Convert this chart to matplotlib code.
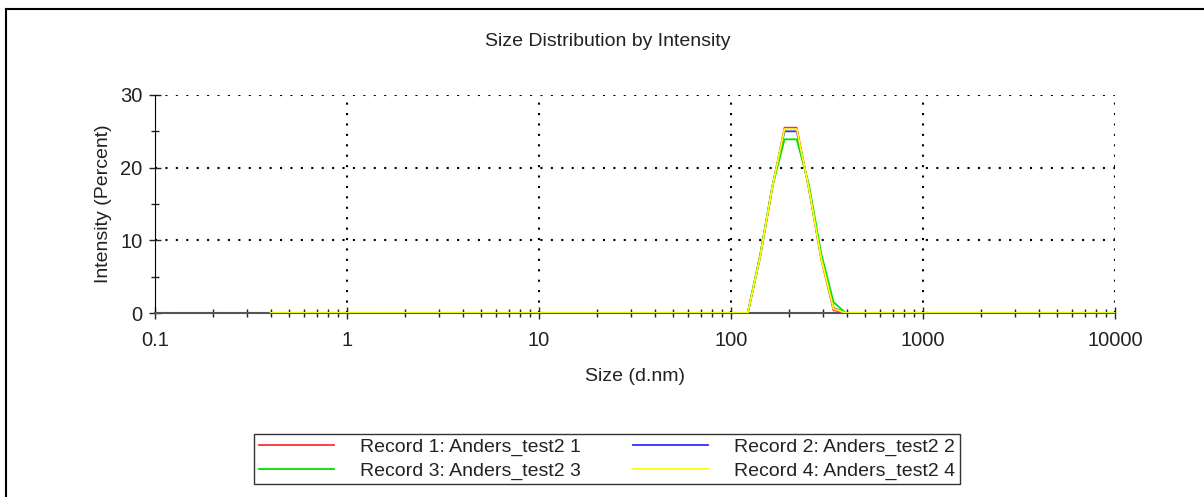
import numpy as np
import matplotlib
matplotlib.use('Agg')
import matplotlib.pyplot as plt
from matplotlib.lines import Line2D
from matplotlib.ticker import LogLocator, FixedLocator, NullFormatter

plt.rcParams['font.family'] = ['Liberation Sans', 'DejaVu Sans']

# size bins (d.nm) and intensity (%) per record
sizes = [0.4, 91.28, 105.7, 122.4, 141.8, 164.2, 190.1, 220.2, 255.0, 295.3, 342.0, 396.1, 458.7, 10000]
record1 = [0, 0, 0, 0, 7.6, 17.2, 25.5, 25.5, 17.0, 7.4, 0.4, 0, 0, 0]
record2 = [0, 0, 0, 0, 7.8, 17.4, 25.0, 25.0, 17.2, 7.6, 0.7, 0, 0, 0]
record3 = [0, 0, 0, 0, 7.9, 17.3, 23.9, 23.9, 17.6, 8.2, 1.5, 0, 0, 0]
record4 = [0, 0, 0, 0, 7.7, 17.3, 25.3, 25.3, 17.1, 7.5, 0.6, 0, 0, 0]

labels = ['Record 1: Anders_test2 1', 'Record 2: Anders_test2 2',
          'Record 3: Anders_test2 3', 'Record 4: Anders_test2 4']
colors = ['#ff3030', '#3030ff', '#00e000', '#ffff00']

fig = plt.figure(figsize=(12.04, 4.97), dpi=100)
ax = fig.add_axes([0.1287, 0.3702, 0.7973, 0.4387])

for vals, c in zip([record1, record2, record3, record4], colors):
    ax.plot(sizes, vals, color=c, lw=1.3, zorder=3)

ax.set_xscale('log')
ax.set_xlim(0.1, 10000)
ax.set_ylim(0, 30)
ax.set_xticks([0.1, 1, 10, 100, 1000, 10000])
ax.set_xticklabels(['0.1', '1', '10', '100', '1000', '10000'])
ax.xaxis.set_minor_locator(LogLocator(base=10, subs=np.arange(2, 10)))
ax.xaxis.set_minor_formatter(NullFormatter())
ax.set_yticks([0, 10, 20, 30])
ax.yaxis.set_minor_locator(FixedLocator([5, 15, 25]))

ax.tick_params(axis='both', which='major', direction='inout', length=8, width=1,
               labelsize=14.5, colors='#222222')
ax.tick_params(axis='both', which='minor', direction='inout', length=6, width=1, colors='#222222')
ax.tick_params(axis='x', pad=9)
ax.tick_params(axis='y', pad=5)

ax.grid(True, which='major', color='black', linestyle=(0, (1, 4)), linewidth=1.5)
ax.spines['top'].set_visible(False)
ax.spines['right'].set_visible(False)
ax.spines['bottom'].set_color('#555555')
ax.spines['bottom'].set_linewidth(1.5)
ax.spines['left'].set_color('black')
ax.set_axisbelow(True)

ax.set_xlabel('Size (d.nm)', fontsize=14, labelpad=13, color='#222222')
ax.set_ylabel('Intensity (Percent)', fontsize=14, labelpad=6, color='#222222')
fig.text(0.5045, 0.917, 'Size Distribution by Intensity', ha='center', va='center',
         fontsize=14, color='#222222')

# legend filled row by row: 1, 2 / 3, 4
order = [0, 2, 1, 3]
handles = [Line2D([], [], color=colors[i], lw=1.3) for i in order]
leg = fig.legend(handles, [labels[i] for i in order], loc='center',
                 bbox_to_anchor=(0.5042, 0.0765),
                 ncol=2, fontsize=14, frameon=True, fancybox=False, edgecolor='black',
                 handlelength=3.86, handletextpad=1.34, columnspacing=2.7,
                 borderpad=0.25, labelspacing=0.29, borderaxespad=0)
leg.get_frame().set_linewidth(1.0)
for t in leg.get_texts():
    t.set_color('#222222')

# page frame
fig.add_artist(Line2D([0.005, 1.0], [0.982, 0.982], color='black', lw=1.5, transform=fig.transFigure))
fig.add_artist(Line2D([0.005, 0.005], [0.0, 0.982], color='black', lw=1.5, transform=fig.transFigure))

fig.savefig('out.png', dpi=100)
